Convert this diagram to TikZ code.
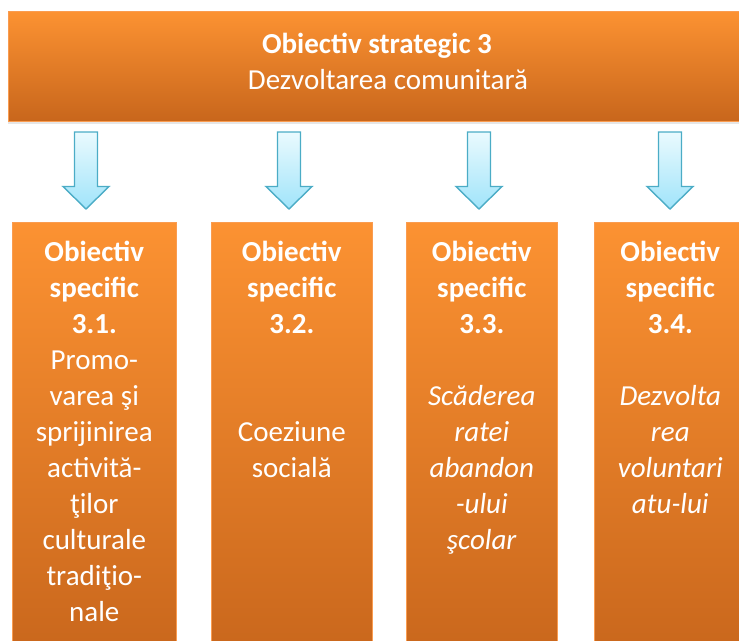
\documentclass[tikz,border=0pt]{standalone}
\usepackage{fontspec}
\setmainfont{Carlito}
\usetikzlibrary{positioning}
\usetikzlibrary{shadows}
\definecolor{orangetop}{RGB}{252,146,50}
\definecolor{orangebot}{RGB}{200,102,28}
\definecolor{orangeedge}{RGB}{250,156,80}
\definecolor{arrowtop}{RGB}{234,250,254}
\definecolor{arrowbot}{RGB}{160,228,250}
\definecolor{arrowedge}{RGB}{75,172,198}

\begin{document}
\begin{tikzpicture}
[x=1pt,y=-1pt,
obj box/.style={rectangle,top color=orangetop,bottom color=orangebot,draw=orangeedge,line width=0.6pt,inner sep=0pt,drop shadow={shadow xshift=0pt,shadow yshift=-3pt,opacity=.2}},
obj text/.style={text=white,align=center,inner sep=0pt,font=\fontsize{29}{36}\selectfont},
down arrow/.pic={\shade[top color=arrowtop,bottom color=arrowbot,draw=arrowedge,line width=1.4pt,line join=miter]
  (-11.5,-38.5) -- (11.5,-38.5) -- (11.5,16) -- (23,16) -- (0,38.5) -- (-23,16) -- (-11.5,16) -- cycle;}]
\useasboundingbox (0,0) rectangle (739,640);
\clip (0,0) rectangle (739,640);
\node[obj box,minimum width=738pt,minimum height=110pt,anchor=north west] (strat) at (8,11) {};
\node[obj text] (stratlbl) at (377,61) {\textbf{Obiectiv strategic 3}\\\hspace*{22pt}Dezvoltarea comunitară};
\node[obj box,minimum width=164pt,minimum height=440pt,anchor=north west] (c1) at (12,222) {};
\node[obj box,minimum width=161pt,minimum height=440pt,anchor=north west] (c2) at (211,222) {};
\node[obj box,minimum width=151pt,minimum height=440pt,anchor=north west] (c3) at (406,222) {};
\node[obj box,minimum width=152pt,minimum height=440pt,anchor=north west] (c4) at (594,222) {};
\node[obj text,below=19pt of c1.north] (l1) {\textbf{Obiectiv}\\\textbf{specific}\\\textbf{3.1.}\\Promo-\\varea şi\\sprijinirea\\activită-\\ţilor\\culturale\\tradiţio-\\nale};
\node[obj text,below=19pt of c2.north] (l2) {\textbf{Obiectiv}\\\textbf{specific}\\\textbf{3.2.}\\[72pt]Coeziune\\socială};
\node[obj text,below=19pt of c3.north] (l3) {\textbf{Obiectiv}\\\textbf{specific}\\\textbf{3.3.}\\[36pt]\textit{Scăderea}\\\textit{ratei}\\\textit{abandon}\\\textit{-ului}\\\textit{şcolar}};
\node[obj text,below=19pt of c4.north] (l4) {\textbf{Obiectiv}\\\textbf{specific}\\\textbf{3.4.}\\[36pt]\textit{Dezvolta}\\\textit{rea}\\\textit{voluntari}\\\textit{atu-lui}};
\foreach \ax [count=\i] in {86,289,479,670}
  \pic (arr\i) at (\ax,170.5) {down arrow};
\end{tikzpicture}
\end{document}
